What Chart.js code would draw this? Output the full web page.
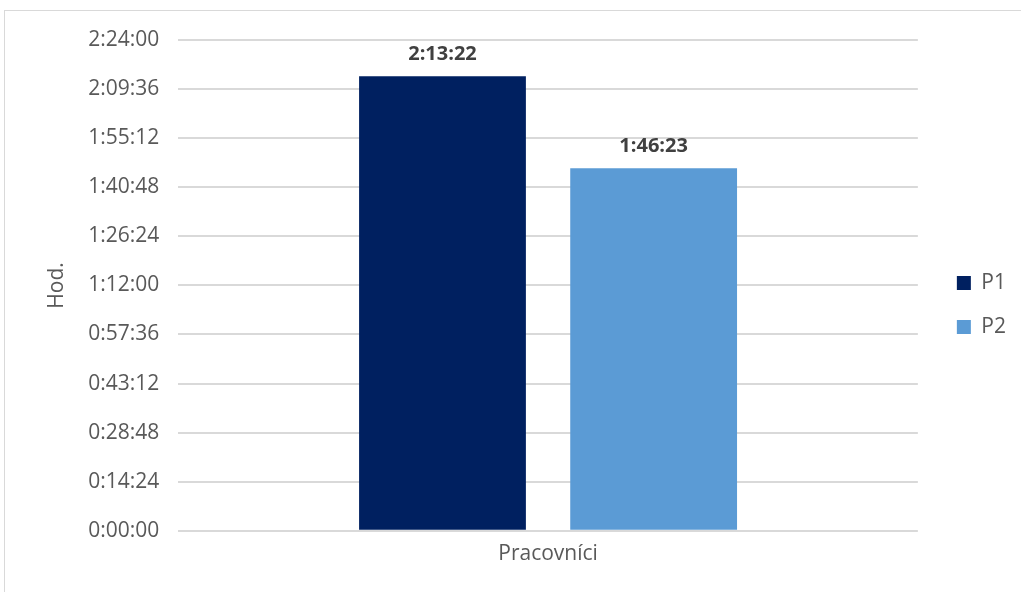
<!DOCTYPE html>
<html>
<head>
<meta charset="utf-8">
<script src="https://cdn.jsdelivr.net/npm/chart.js@4.4.0/dist/chart.umd.min.js"></script>
<style>
  html, body { margin: 0; padding: 0; background: #fff; overflow: hidden; }
  #frame { position: absolute; left: 4px; top: 10px; width: 1100px; height: 700px; border: 1px solid #d9d9d9; }
  #wrap { position: absolute; left: 0; top: 0; width: 1021px; height: 592px; }
</style>
</head>
<body>
<div id="frame"></div>
<div id="wrap"><canvas id="barChart"></canvas></div>
<script>
// values in seconds
const categories = ["Pracovníci"];
const seriesNames = ["P1", "P2"];
const p1Values = [8002];   // 2:13:22
const p2Values = [6383];   // 1:46:23
const yMax = 8640;         // 2:24:00
const yStep = 864;         // 0:14:24
const seriesColors = ["#002060", "#5b9bd5"];

function fmtTime(sec) {
    const h = Math.floor(sec / 3600);
    const m = Math.floor((sec % 3600) / 60);
    const s = Math.round(sec % 60);
    return h + ":" + String(m).padStart(2, "0") + ":" + String(s).padStart(2, "0");
}

// draw the value above each bar
const valueLabels = {
    id: "valueLabels",
    afterDatasetsDraw(chart) {
        const ctx = chart.ctx;
        ctx.save();
        ctx.font = "bold 20px 'Open Sans'";
        ctx.fillStyle = "#404040";
        ctx.textAlign = "center";
        ctx.textBaseline = "bottom";
        chart.data.datasets.forEach(function (ds, i) {
            chart.getDatasetMeta(i).data.forEach(function (bar, j) {
                ctx.fillText(fmtTime(ds.data[j]), bar.x, bar.y - 12);
            });
        });
        ctx.restore();
    }
};

// push the legend entries a bit further from the plot
const legendShift = {
    id: "legendShift",
    afterLayout(chart) {
        if (chart.legend) {
            chart.legend.left += 16;
            chart.legend.right += 16;
        }
    }
};

const tickFont = { family: "'Open Sans'", size: 21 };

const barCanvas = document.getElementById("barChart");
const barChart = new Chart(barCanvas, {
    type: "bar",
    data: {
        labels: categories,
        datasets: [
            { label: seriesNames[0], data: p1Values, backgroundColor: seriesColors[0] },
            { label: seriesNames[1], data: p2Values, backgroundColor: seriesColors[1] },
        ],
    },
    options: {
        responsive: true,
        maintainAspectRatio: false,
        animation: false,
        categoryPercentage: 0.571,
        barPercentage: 0.79,
        layout: { padding: { left: 44, top: 40, right: 21, bottom: 22 } },
        plugins: {
            tooltip: { enabled: false },
            legend: {
                position: "right",
                labels: {
                    boxWidth: 14,
                    boxHeight: 14,
                    padding: 23,
                    color: "#595959",
                    font: tickFont,
                },
            },
        },
        scales: {
            x: {
                grid: { display: false },
                border: { display: false },
                ticks: { color: "#595959", font: tickFont, padding: 3 },
            },
            y: {
                min: 0,
                max: yMax,
                border: { display: false },
                grid: { color: "#d9d9d9", lineWidth: 2, drawTicks: false },
                ticks: {
                    stepSize: yStep,
                    color: "#595959",
                    font: tickFont,
                    padding: 19,
                    callback: function (v) { return fmtTime(v); },
                },
                title: {
                    display: true,
                    text: "Hod.",
                    color: "#595959",
                    font: tickFont,
                    padding: { top: 0, bottom: 0 },
                },
            },
        },
    },
    plugins: [valueLabels, legendShift],
});
</script>
</body>
</html>
